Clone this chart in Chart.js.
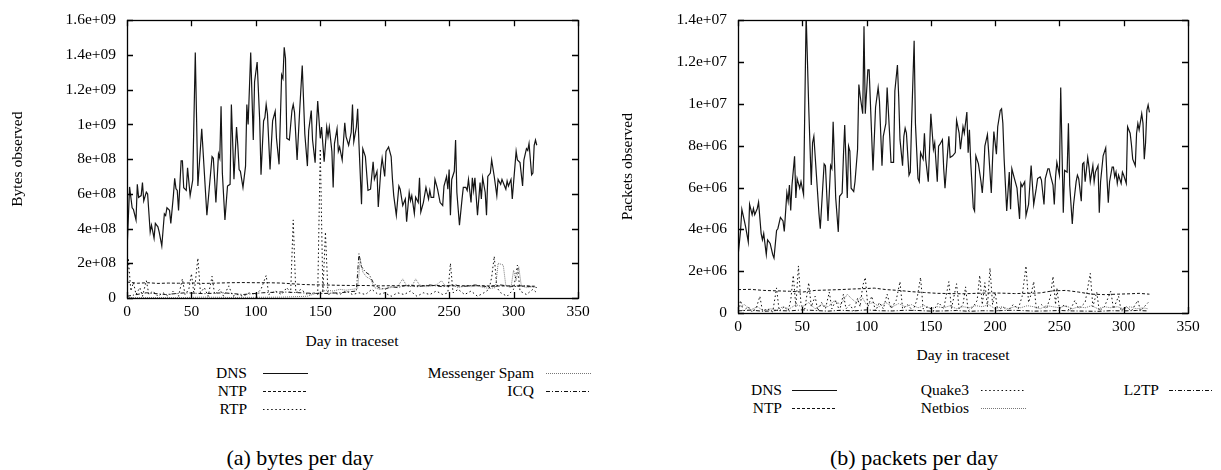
<!DOCTYPE html>
<html lang="en">
<head>
    <meta charset="UTF-8">
    <title>Bytes and packets per day</title>
    <script src="https://cdn.jsdelivr.net/npm/chart.js"></script>
    <style>
        body { margin: 0; background: #fff; }
        #page { position: relative; width: 1221px; height: 470px; font-family: "Liberation Serif", Tinos, "Times New Roman", "Nimbus Roman", "DejaVu Serif", serif; color: #000; }
        canvas { position: absolute; top: 0; }
        .t { position: absolute; font-size: 15.5px; line-height: 18px; white-space: nowrap; }
        .r { text-align: right; }
        .cap { position: absolute; font-size: 22px; line-height: 26px; white-space: nowrap; }
        svg.s { position: absolute; overflow: visible; }
    </style>
</head>
<body>
<div id="page">
    <canvas id="bytesChart" width="610" height="330" style="left:0"></canvas>
    <canvas id="packetsChart" width="611" height="345" style="left:610px"></canvas>

    <!-- axis titles -->
    <div class="t" style="left:252px;width:200px;text-align:center;top:332px">Day in traceset</div>
    <div class="t" style="left:863px;width:200px;text-align:center;top:346px">Day in traceset</div>

    <!-- legend (a) -->
    <div class="t r" style="right:974px;top:364px">DNS</div>
    <div class="t r" style="right:974px;top:382px">NTP</div>
    <div class="t r" style="right:974px;top:400px">RTP</div>
    <div class="t r" style="right:687px;top:364px">Messenger Spam</div>
    <div class="t r" style="right:687px;top:382px">ICQ</div>
    <svg class="s" style="left:263px;top:373px" width="46" height="2"><line x1="0" y1="0.5" x2="45" y2="0.5" stroke="#111" stroke-width="1.2"/></svg>
    <svg class="s" style="left:263px;top:391px" width="46" height="2"><line x1="0" y1="0.5" x2="45" y2="0.5" stroke="#111" stroke-width="1" stroke-dasharray="3 2"/></svg>
    <svg class="s" style="left:263px;top:409px" width="46" height="2"><line x1="0" y1="0.5" x2="45" y2="0.5" stroke="#111" stroke-width="1" stroke-dasharray="1.5 2.6"/></svg>
    <svg class="s" style="left:546px;top:373px" width="46" height="2"><line x1="0" y1="0.5" x2="45" y2="0.5" stroke="#777" stroke-width="1" stroke-dasharray="1 1"/></svg>
    <svg class="s" style="left:546px;top:391px" width="46" height="2"><line x1="0" y1="0.5" x2="45" y2="0.5" stroke="#111" stroke-width="1" stroke-dasharray="4 2 1 2"/></svg>

    <!-- legend (b) -->
    <div class="t r" style="right:439px;top:381px">DNS</div>
    <div class="t r" style="right:439px;top:399px">NTP</div>
    <div class="t r" style="right:252px;top:381px">Quake3</div>
    <div class="t r" style="right:252px;top:399px">Netbios</div>
    <div class="t r" style="right:62px;top:381px">L2TP</div>
    <svg class="s" style="left:792px;top:390px" width="46" height="2"><line x1="0" y1="0.5" x2="45" y2="0.5" stroke="#111" stroke-width="1.2"/></svg>
    <svg class="s" style="left:792px;top:408px" width="46" height="2"><line x1="0" y1="0.5" x2="45" y2="0.5" stroke="#111" stroke-width="1" stroke-dasharray="3 2"/></svg>
    <svg class="s" style="left:981px;top:390px" width="46" height="2"><line x1="0" y1="0.5" x2="45" y2="0.5" stroke="#111" stroke-width="1" stroke-dasharray="1.5 2.6"/></svg>
    <svg class="s" style="left:981px;top:408px" width="46" height="2"><line x1="0" y1="0.5" x2="45" y2="0.5" stroke="#777" stroke-width="1" stroke-dasharray="1 1"/></svg>
    <svg class="s" style="left:1169px;top:390px" width="46" height="2"><line x1="0" y1="0.5" x2="45" y2="0.5" stroke="#111" stroke-width="1" stroke-dasharray="4 2 1 2"/></svg>

    <!-- captions -->
    <div class="cap" style="left:200px;width:200px;text-align:center;top:445px">(a) bytes per day</div>
    <div class="cap" style="left:804px;width:220px;text-align:center;top:445px">(b) packets per day</div>
</div>

<script>
// ---- data: [day, value] ; bytes in units of 1e8, packets in units of 1e6 ----
const BYTES_UNIT = 1e8;
const PACKETS_UNIT = 1e6;

const dayTicks = [0, 50, 100, 150, 200, 250, 300, 350];
const bytesTicks = [0, 2e8, 4e8, 6e8, 8e8, 1e9, 1.2e9, 1.4e9, 1.6e9];
const packetsTicks = [0, 2e6, 4e6, 6e6, 8e6, 1e7, 1.2e7, 1.4e7];

const bytesDns = [
    [0,2.7],[2,6.4],[4,5.2],[5,5.1],[7,4.5],[8,6.55],[9,5.8],[11,5.9],[12,6.65],[13,5.6],[15,6.1],[16,6.0],
    [18,3.8],[19,4.2],[21,3.45],[22,4.3],[24,4.1],[25,3.8],[27,3.0],[29,4.85],[30,4.75],[31,5.2],[33,5.05],
    [34,4.3],[36,5.9],[37,6.9],[38,6.3],[39,6.2],[40,5.05],[42,7.9],[43,7.9],[44,6.35],[46,6.2],[47,7.5],
    [49,5.9],[51,6.8],[53,14.15],[55,6.45],[58,9.75],[62,4.77],[66,8.15],[67,8.05],[69,5.5],[71,8.3],[72,8.05],
    [73,11.05],[74,7.2],[76,4.5],[78,6.45],[80,6.55],[81,11.15],[83,6.85],[85,9.85],[86,8.8],[87,7.4],[88,7.3],
    [90,6.37],[92,7.6],[93,11.15],[94,10.0],[96,14.15],[98,9.1],[99,12.45],[101,13.6],[103,10.2],
    [104,7.1],[106,10.2],[107,10.4],[108,11.15],[109,10.6],[111,7.4],[113,10.2],[115,10.75],[116,9.2],[118,7.7],
    [120,12.85],[121,12.65],[122,14.45],[123,13.8],[124,9.2],[126,9.1],[128,10.8],[129,11.15],[130,10.7],
    [132,7.95],[134,10.8],[136,13.4],[138,9.45],[140,7.6],[141,9.65],[143,10.8],[144,9.1],[146,7.8],[147,9.85],
    [148,11.35],[150,9.2],[151,9.85],[153,7.85],[155,9.85],[156,9.3],[157,9.85],[159,8.45],[160,6.37],[161,8.9],
    [163,9.75],[164,8.45],[165,8.7],[167,7.95],[169,10.1],[170,9.3],[172,8.8],[174,9.55],[175,11.15],[176,9.0],
    [178,9.85],[179,10.9],[180,8.9],[182,5.4],[183,8.6],[185,8.15],[187,6.2],[189,6.27],[191,7.85],[192,6.85],
    [194,7.3],[195,5.25],[197,7.4],[198,8.05],[200,7.0],[201,8.45],[203,8.7],[205,8.15],[206,6.85],[207,5.9],
    [209,4.77],[211,6.45],[212,6.27],[214,5.33],[216,5.7],[217,4.4],[219,6.08],[220,5.6],[221,5.9],[223,4.86],
    [224,5.8],[226,5.5],[227,6.93],[228,4.95],[230,5.5],[232,6.37],[234,5.7],[235,6.2],[236,5.8],[238,5.8],
    [239,6.83],[241,6.27],[243,5.5],[245,5.33],[246,6.45],[248,7.0],[249,6.27],[250,7.4],[251,4.77],[252,6.83],
    [254,7.3],[255,9.1],[256,6.08],[258,4.2],[260,5.7],[261,6.37],[263,6.37],[264,6.2],[265,6.83],[267,5.5],
    [268,6.93],[269,6.2],[270,6.93],[272,4.77],[274,6.65],[275,5.7],[276,6.93],[278,6.08],[279,4.77],[280,7.0],
    [282,7.2],[283,7.95],[285,7.0],[287,5.9],[288,6.83],[290,6.55],[291,6.83],[293,6.45],[294,6.27],[295,6.74],
    [296,6.45],[298,6.83],[299,5.7],[300,6.65],[302,8.45],[303,7.95],[305,7.8],[307,6.45],[308,7.95],[310,8.6],
    [311,8.5],[312,8.9],[314,7.1],[315,7.2],[316,8.8],[317,9.1],[318,8.8]
];
const bytesNtp = [
    [0,0.92],[8,0.85],[16,0.88],[24,0.84],[32,0.86],[40,0.85],[50,0.87],[60,0.84],[70,0.86],[80,0.88],
    [90,0.89],[100,0.88],[110,0.88],[120,0.86],[128,0.82],[136,0.78],[145,0.76],[155,0.75],[165,0.73],
    [175,0.72],[185,0.72],[195,0.7],[210,0.71],[225,0.7],[240,0.72],[255,0.7],[270,0.71],[285,0.69],
    [300,0.7],[310,0.68],[318,0.68]
];
const bytesRtp = [
    [0,0.5],[1,2.3],[3,0.4],[5,0.9],[7,0.2],[10,0.6],[12,0.1],[15,1.0],[17,0.2],[20,0.4],[24,0.1],[28,0.3],
    [32,0.1],[36,0.4],[40,0.1],[43,1.1],[45,0.2],[48,0.5],[50,1.4],[52,0.2],[55,2.3],[57,0.3],[60,0.6],
    [63,0.1],[66,1.25],[68,0.2],[72,0.5],[75,0.1],[79,0.7],[82,0.1],[86,0.2],[90,0.1],[95,0.3],[100,0.2],
    [104,0.5],[108,1.3],[110,0.2],[115,0.4],[120,0.2],[124,0.6],[127,0.3],[129,4.5],[131,0.3],[135,0.5],
    [140,0.2],[145,0.3],[148,0.2],[150,8.6],[152,0.3],[154,3.8],[156,0.2],[160,0.3],[165,0.2],[170,0.4],
    [175,0.2],[180,0.3],[185,0.2],[190,0.5],[195,0.2],[200,0.3],[205,0.1],[210,0.3],[215,0.2],[220,0.4],
    [225,0.1],[230,0.3],[235,0.2],[240,0.4],[245,0.2],[249,0.3],[251,2.0],[253,0.3],[257,0.5],[262,0.2],
    [267,0.4],[272,0.1],[277,0.3],[281,0.5],[283,1.2],[285,2.4],[287,0.6],[290,0.3],[295,0.1],[300,0.5],
    [303,1.9],[305,0.4],[310,0.2],[315,0.5],[318,0.3]
];
const bytesSpam = [
    [0,0.02],[20,0.03],[40,0.02],[60,0.05],[80,0.03],[100,0.04],[120,0.05],[140,0.1],[150,0.35],[155,0.45],
    [160,0.4],[165,0.5],[170,0.45],[175,0.5],[179,0.55],[181,2.2],[183,1.5],[186,1.2],[189,1.1],[192,0.6],
    [196,0.5],[200,0.55],[205,0.6],[210,0.65],[214,1.1],[217,0.7],[221,0.65],[224,1.1],[227,0.75],[232,0.65],
    [237,0.7],[241,0.8],[244,1.0],[247,0.7],[252,0.75],[257,0.6],[262,0.7],[267,0.65],[272,0.7],[277,0.6],
    [282,0.55],[286,0.6],[288,2.0],[292,1.9],[294,0.7],[298,0.6],[300,1.6],[302,1.0],[304,1.8],[306,0.7],
    [310,0.6],[315,0.65],[318,0.6]
];
const bytesIcq = [
    [0,0.1],[15,0.3],[30,0.2],[45,0.3],[60,0.25],[75,0.3],[90,0.2],[105,0.3],[120,0.35],[135,0.3],[150,0.25],
    [165,0.3],[178,0.4],[180,2.55],[182,1.8],[185,1.5],[188,1.35],[191,0.9],[195,0.6],[200,0.5],[205,0.65],
    [210,0.6],[215,0.7],[220,0.75],[225,0.65],[230,0.7],[235,0.75],[240,0.7],[245,0.65],[250,0.7],[255,0.75],
    [260,0.65],[265,0.7],[270,0.75],[275,0.7],[280,0.65],[285,0.7],[290,0.75],[295,0.7],[300,0.65],[305,0.7],
    [310,0.7],[315,0.65],[318,0.6]
];

const packetsDns = [
    [0,2.7],[2,3.95],[3,4.96],[5,4.4],[6,4.1],[8,3.4],[9,5.2],[11,4.7],[12,5.0],[13,4.7],[15,5.0],[16,5.3],
    [18,3.8],[19,3.5],[20,3.8],[22,2.8],[23,3.5],[25,3.33],[27,2.8],[28,2.63],[30,3.95],[31,4.03],[33,4.57],
    [35,4.4],[36,3.9],[38,5.74],[39,5.35],[40,6.12],[41,4.9],[42,6.12],[44,7.5],[45,5.5],[46,6.43],[48,5.97],
    [49,6.28],[51,5.66],[52,10.0],[53,14.3],[55,9.85],[57,6.12],[58,8.14],[59,8.45],[61,6.59],[63,4.73],
    [64,4.03],[66,6.12],[67,7.13],[68,7.05],[70,4.4],[72,7.05],[73,6.9],[74,9.15],[76,5.5],[78,3.88],[79,5.58],
    [81,5.74],[82,7.5],[83,8.99],[85,5.5],[86,7.98],[87,7.75],[88,5.97],[90,5.81],[91,6.28],[93,7.83],
    [94,10.93],[95,10.39],[97,9.53],[98,13.72],[99,9.53],[101,11.63],[102,11.63],[105,6.82],[107,9.84],
    [109,10.78],[110,10.16],[112,7.05],[113,8.45],[115,9.07],[116,10.78],[118,8.45],[119,7.2],[121,7.2],
    [122,10.62],[124,11.86],[125,10.31],[126,8.29],[128,7.05],[129,8.45],[130,8.84],[131,8.6],[133,6.59],
    [134,6.74],[135,9.07],[137,13.02],[138,9.07],[140,6.43],[141,6.28],[142,7.67],[144,7.36],[145,8.6],
    [146,7.36],[148,6.28],[149,7.83],[150,9.53],[152,7.83],[153,8.14],[155,6.28],[156,7.98],[157,8.06],
    [159,8.29],[160,6.9],[161,5.97],[163,7.67],[164,8.45],[165,7.44],[167,7.52],[169,7.67],[170,9.22],
    [172,8.6],[173,7.83],[175,8.91],[176,8.6],[178,9.61],[179,7.67],[180,8.76],[181,7.2],[183,5.04],
    [184,4.88],[185,7.52],[187,7.13],[189,6.28],[190,5.74],[191,6.59],[192,7.98],[194,8.53],[195,7.67],
    [197,5.74],[198,7.36],[199,8.68],[201,7.6],[202,8.91],[204,9.69],[205,9.77],[206,9.07],[207,7.36],
    [209,4.88],[211,6.74],[212,4.96],[213,6.9],[215,6.43],[217,5.97],[219,4.5],[220,6.2],[221,6.05],
    [223,6.28],[224,4.65],[226,5.19],[227,6.12],[228,7.05],[230,5.19],[232,5.97],[233,6.43],[235,6.51],
    [236,6.36],[238,5.19],[239,6.43],[241,6.9],[242,6.9],[243,6.59],[245,6.12],[246,5.19],[247,6.51],
    [248,7.2],[250,6.59],[251,10.78],[253,4.8],[254,6.82],[256,6.74],[257,9.07],[258,6.12],[260,4.26],
    [261,5.19],[263,6.28],[264,6.59],[265,6.43],[267,5.35],[268,7.13],[269,7.2],[270,6.28],[272,7.44],
    [273,6.98],[274,6.28],[276,7.05],[277,6.28],[278,6.74],[280,7.05],[281,4.8],[282,6.28],[284,7.52],
    [286,7.9],[287,6.43],[288,5.27],[289,6.28],[291,6.98],[292,6.98],[293,6.51],[294,6.74],[295,6.2],
    [296,6.59],[298,6.2],[299,6.74],[300,6.59],[302,6.2],[303,8.91],[305,8.6],[306,8.06],[307,7.36],
    [309,7.05],[310,8.6],[311,9.07],[312,8.76],[314,9.53],[315,9.07],[316,7.36],[317,8.14],[318,9.69],
    [319,9.95],[320,9.6]
];
const packetsNtp = [
    [0,1.12],[10,1.13],[20,1.08],[30,1.06],[40,1.04],[50,1.0],[60,1.08],[70,1.1],[80,1.12],[90,1.15],
    [100,1.17],[106,1.19],[115,1.12],[125,1.08],[135,1.02],[145,0.98],[155,0.94],[165,0.93],[175,0.92],
    [185,0.94],[195,0.96],[205,0.95],[215,0.93],[225,0.94],[235,0.96],[245,1.06],[255,1.08],[265,1.0],
    [275,0.9],[285,0.88],[295,0.9],[305,0.92],[312,0.94],[320,0.9]
];
const packetsQuake = [
    [0,0.1],[2,0.6],[4,0.1],[8,0.3],[11,0.05],[14,0.2],[17,0.8],[19,0.1],[23,0.2],[27,0.05],[30,1.2],[32,0.1],
    [36,0.3],[39,0.1],[41,0.6],[43,1.8],[45,0.3],[47,2.25],[49,0.4],[52,0.2],[55,1.45],[57,0.3],[60,0.8],
    [62,0.1],[65,0.5],[68,0.2],[71,1.0],[73,0.2],[76,0.6],[79,0.1],[82,0.9],[84,0.2],[87,0.4],[90,0.1],
    [93,0.7],[95,0.3],[97,1.3],[99,1.7],[101,0.3],[104,0.8],[107,0.1],[110,0.5],[113,0.2],[116,0.9],[119,0.2],
    [123,0.6],[126,1.5],[128,0.2],[132,0.4],[136,0.1],[139,0.6],[142,1.7],[144,0.2],[148,0.3],[152,0.1],
    [156,0.5],[160,0.2],[164,1.5],[166,0.2],[170,1.4],[172,0.2],[175,0.4],[177,1.25],[179,0.1],[183,0.3],
    [186,0.6],[188,1.8],[190,0.4],[192,1.45],[194,0.3],[196,2.15],[198,0.4],[200,1.0],[202,0.1],[206,0.3],
    [210,0.1],[214,0.4],[218,0.2],[221,0.8],[224,2.25],[226,0.5],[228,0.9],[230,1.5],[232,0.2],[236,0.4],
    [240,0.2],[243,0.8],[245,1.75],[247,0.4],[248,1.2],[250,0.2],[254,0.4],[258,0.1],[262,0.6],[265,0.2],
    [270,0.5],[274,1.9],[276,0.3],[279,1.0],[281,0.1],[285,0.3],[290,1.05],[292,0.2],[296,0.8],[298,0.1],
    [302,0.3],[306,0.1],[311,0.6],[313,0.1],[316,0.3],[319,0.5]
];
const packetsNetbios = [
    [0,0.3],[5,0.4],[10,0.15],[15,0.3],[20,0.1],[25,0.2],[30,0.15],[35,0.3],[40,0.2],[45,0.4],[50,0.3],
    [55,0.5],[60,0.2],[65,0.4],[70,0.3],[75,0.6],[80,0.4],[85,0.9],[88,0.7],[92,0.5],[96,0.8],[100,0.4],
    [105,0.5],[110,0.3],[115,0.5],[120,0.3],[125,0.45],[130,0.3],[135,0.4],[140,0.25],[145,0.35],[150,0.2],
    [155,0.3],[160,0.25],[165,0.35],[170,0.2],[175,0.3],[180,0.25],[185,0.35],[190,0.3],[195,0.4],[200,0.2],
    [205,0.3],[210,0.2],[215,0.3],[220,0.25],[225,0.35],[230,0.3],[235,0.2],[240,0.35],[245,0.3],[250,0.25],
    [255,0.35],[260,0.2],[265,0.3],[270,0.25],[275,0.35],[280,0.2],[285,0.3],[290,0.25],[295,0.3],[300,0.2],
    [305,0.3],[310,0.2],[315,0.25],[319,0.2]
];
const packetsL2tp = [
    [0,0.1],[10,0.14],[20,0.08],[30,0.12],[40,0.1],[50,0.15],[60,0.12],[70,0.09],[80,0.13],[90,0.1],
    [100,0.15],[110,0.11],[120,0.1],[130,0.13],[140,0.12],[150,0.09],[160,0.1],[170,0.12],[180,0.08],
    [190,0.11],[200,0.1],[210,0.13],[220,0.12],[230,0.09],[240,0.1],[250,0.12],[260,0.1],[270,0.09],
    [280,0.08],[290,0.11],[300,0.1],[310,0.12],[319,0.1]
];

// ---- helpers ----
function toPoints(pairs, unit) {
    return pairs.map(p => ({ x: p[0], y: p[1] * unit }));
}

// gnuplot style labels: 1.6e+09, 1e+09, 0
function sciLabel(v) {
    if (v === 0) return '0';
    return Number(v.toPrecision(3)).toExponential().replace(/e([+-])(\d)$/, 'e$10$2');
}

function line(label, pairs, unit, color, dash, width) {
    return {
        label: label,
        data: toPoints(pairs, unit),
        borderColor: color,
        borderWidth: width || 1,
        borderDash: dash || [],
        pointRadius: 0,
        tension: 0,
        fill: false
    };
}

// border box with ticks pointing inwards on all four sides
const frameTicks = {
    id: 'frameTicks',
    afterDraw(chart) {
        const { ctx, chartArea: a, scales } = chart;
        ctx.save();
        ctx.strokeStyle = '#000';
        ctx.lineWidth = 1.3;
        ctx.beginPath();
        scales.x.ticks.forEach(t => {
            const px = Math.round(scales.x.getPixelForValue(t.value)) + 0.5;
            ctx.moveTo(px, a.bottom); ctx.lineTo(px, a.bottom - 6);
            ctx.moveTo(px, a.top); ctx.lineTo(px, a.top + 6);
        });
        scales.y.ticks.forEach(t => {
            const py = Math.round(scales.y.getPixelForValue(t.value)) + 0.5;
            ctx.moveTo(a.left, py); ctx.lineTo(a.left + 6, py);
            ctx.moveTo(a.right, py); ctx.lineTo(a.right - 6, py);
        });
        ctx.stroke();
        ctx.strokeRect(Math.round(a.left) + 0.5, Math.round(a.top) + 0.5,
            Math.round(a.right - a.left), Math.round(a.bottom - a.top));
        ctx.restore();
    }
};

const tickFont = { family: '"Liberation Serif", Tinos, "Times New Roman", "Nimbus Roman", "DejaVu Serif", serif', size: 15.5 };

function makeChart(id, datasets, yTicks, yTitle, area) {
    const yMax = yTicks[yTicks.length - 1];
    return new Chart(document.getElementById(id), {
        type: 'line',
        data: { datasets: datasets },
        options: {
            responsive: false,
            animation: false,
            layout: { padding: { top: area.top, right: area.right, left: 0, bottom: 0 } },
            plugins: { legend: { display: false }, tooltip: { enabled: false } },
            scales: {
                x: {
                    type: 'linear', min: 0, max: 350,
                    afterBuildTicks: s => { s.ticks = dayTicks.map(v => ({ value: v })); },
                    afterFit: s => { s.height = area.xHeight; },
                    grid: { display: false, drawTicks: false },
                    border: { display: false },
                    ticks: { font: tickFont, color: '#000', padding: 5, maxRotation: 0,
                             callback: v => String(v) }
                },
                y: {
                    min: 0, max: yMax,
                    afterBuildTicks: s => { s.ticks = yTicks.map(v => ({ value: v })); },
                    afterFit: s => { s.width = area.yWidth; },
                    grid: { display: false, drawTicks: false },
                    border: { display: false },
                    title: { display: true, text: yTitle, font: tickFont, color: '#000', padding: { top: 9, bottom: 0 } },
                    ticks: { font: tickFont, color: '#000', padding: 11, callback: v => sciLabel(v) }
                }
            }
        },
        plugins: [frameTicks]
    });
}

makeChart('bytesChart', [
    line('DNS', bytesDns, BYTES_UNIT, '#151515', [], 1.2),
    line('NTP', bytesNtp, BYTES_UNIT, '#111', [3, 2]),
    line('RTP', bytesRtp, BYTES_UNIT, '#111', [1.5, 2.6]),
    line('Messenger Spam', bytesSpam, BYTES_UNIT, '#777', [1, 1]),
    line('ICQ', bytesIcq, BYTES_UNIT, '#111', [4, 2, 1, 2])
], bytesTicks, 'Bytes observed', { top: 14, right: 32, yWidth: 127, xHeight: 32 });

makeChart('packetsChart', [
    line('DNS', packetsDns, PACKETS_UNIT, '#151515', [], 1.2),
    line('NTP', packetsNtp, PACKETS_UNIT, '#111', [3, 2]),
    line('Quake3', packetsQuake, PACKETS_UNIT, '#111', [1.5, 2.6]),
    line('Netbios', packetsNetbios, PACKETS_UNIT, '#777', [1, 1]),
    line('L2TP', packetsL2tp, PACKETS_UNIT, '#111', [4, 2, 1, 2])
], packetsTicks, 'Packets observed', { top: 12, right: 33, yWidth: 128, xHeight: 32 });
</script>
</body>
</html>
